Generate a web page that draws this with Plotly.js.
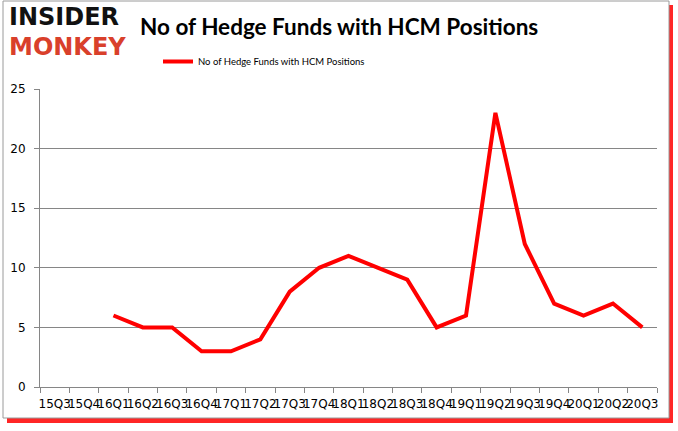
<!DOCTYPE html>
<html>
<head>
<meta charset="utf-8">
<script src="https://cdn.plot.ly/plotly-3.0.1.min.js"></script>
<style>html,body{margin:0;padding:0;background:#fff;}#chart{width:678px;height:431px;}</style>
</head>
<body>
<div id="chart"></div>
<script>
var quarters = ["15Q3","15Q4","16Q1","16Q2","16Q3","16Q4","17Q1","17Q2","17Q3","17Q4","18Q1","18Q2","18Q3","18Q4","19Q1","19Q2","19Q3","19Q4","20Q1","20Q2","20Q3"];
var hedgeFunds = [null,null,6,5,5,3,3,4,8,10,11,10,9,5,6,23,12,7,6,7,5];
var seriesName = "No of Hedge Funds with HCM Positions";
var chartTitle = "No of Hedge Funds with HCM Positions";

var L = 40, R = 657, T = 89, B = 387, W = 678, H = 431;
function px(x){ return (x - L) / (R - L); }
function py(y){ return (B - y) / (B - T); }

var trace = {
  x: quarters, y: hedgeFunds, type: "scatter", mode: "lines",
  name: seriesName, line: {color: "#ff0000", width: 4}, connectgaps: false
};

var tickFont = {family: "'DejaVu Sans', Verdana, sans-serif", size: 12, color: "#000"};

var layout = {
  width: W, height: H,
  margin: {l: L, r: W - R, t: T, b: H - B, pad: 0},
  paper_bgcolor: "#ffffff", plot_bgcolor: "#ffffff",
  showlegend: true,
  legend: {x: px(158), y: py(47), xanchor: "left", yanchor: "top", orientation: "h",
           font: {family: "Lato, 'Open Sans', sans-serif", size: 9.5, color: "#000"},
           bgcolor: "rgba(0,0,0,0)", itemwidth: 30},
  xaxis: {type: "category", categoryorder: "array", categoryarray: quarters,
          range: [-0.5, quarters.length - 0.5],
          showgrid: false, showline: true, linecolor: "#868686", linewidth: 1,
          ticks: "outside", tickson: "boundaries", ticklen: 5, tickcolor: "#868686",
          tickangle: 0, ticklabelstandoff: 6,
          tickfont: tickFont, zeroline: false, fixedrange: true},
  yaxis: {range: [0, 25], dtick: 5, tick0: 0,
          showgrid: true, gridcolor: "#868686", gridwidth: 1,
          showline: true, linecolor: "#868686", linewidth: 1,
          ticks: "outside", ticklen: 5, tickcolor: "#868686",
          ticklabelstandoff: 6,
          tickfont: tickFont, zeroline: false, fixedrange: true},
  annotations: [
    {text: "<b>" + chartTitle + "</b>", xref: "paper", yref: "paper", x: px(339), y: py(27),
     xanchor: "center", yanchor: "middle", showarrow: false,
     font: {family: "Lato, 'Open Sans', sans-serif", size: 22.5, color: "#000"}},
    {text: "<b>INSIDER</b>", xref: "paper", yref: "paper", x: px(8), y: py(32),
     xanchor: "left", yanchor: "bottom", showarrow: false, borderpad: 0,
     font: {family: "'DejaVu Sans', sans-serif", size: 24, color: "#111"}},
    {text: "<b>MONKEY</b>", xref: "paper", yref: "paper", x: px(8), y: py(32),
     xanchor: "left", yanchor: "top", showarrow: false, borderpad: 0,
     font: {family: "'DejaVu Sans', sans-serif", size: 24, color: "#d9402b"}}
  ],
  shapes: [
    {type: "rect", xref: "paper", yref: "paper", x0: px(7), x1: px(673), y0: py(5), y1: py(423),
     line: {width: 0}, fillcolor: "rgba(255,0,0,0.85)", layer: "below"},
    {type: "rect", xref: "paper", yref: "paper", x0: px(3), x1: px(669), y0: py(1), y1: py(418),
     line: {color: "#9a9a9a", width: 1}, fillcolor: "#ffffff", layer: "below"}
  ]
};

Plotly.newPlot("chart", [trace], layout, {displayModeBar: false, staticPlot: true});
</script>
</body>
</html>
